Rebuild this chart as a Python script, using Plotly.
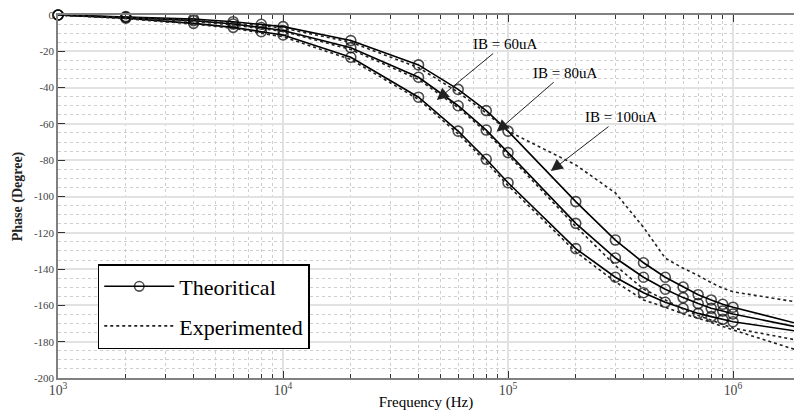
import plotly.graph_objects as go
import numpy as np

# Frequencies (Hz)
freq_theo = [1e3, 2e3, 4e3, 6e3, 8e3, 1e4, 2e4, 4e4, 6e4, 8e4, 1e5,
             2e5, 3e5, 4e5, 5e5, 6e5, 7e5, 8e5, 9e5, 1e6, 2e6]
# Theoretical phase (degree)
theo_60 = [0, -0.9, -2.2, -3.7, -5.1, -6.4, -14.1, -27.5, -41, -52.7, -64,
           -102.8, -124, -136.5, -144.5, -149.9, -154.1, -157, -159.4, -161, -170.5]
theo_80 = [0, -1.3, -3.1, -5, -6.9, -8.5, -18, -34.3, -50, -63.4, -75.8,
           -114.8, -133.9, -144.5, -151.1, -155.7, -159, -161.6, -163.1, -164.7, -172.3]
theo_100 = [0, -1.8, -4.6, -6.8, -9.2, -11, -23.3, -45.3, -64, -79.5, -92.4,
            -128.7, -144.5, -153, -158.3, -161.6, -164.4, -166.2, -167.7, -169, -174.5]
# markers are drawn only up to 1 MHz
marker_on = [True] * 20 + [False]

# Experimented phase (degree)
freq_exp = freq_theo
exp_60 = [0, -1.2, -2.8, -4.3, -6, -7.2, -15, -29, -42.5, -54, -64,
          -82.6, -98, -117, -134, -139.5, -143.5, -147.5, -150.5, -152.5, -158.5]
exp_80 = [0, -1.5, -3.5, -5.5, -7.5, -9, -19, -35.5, -51, -64.5, -77,
          -116.5, -138, -151, -157, -162, -165.5, -168, -170.5, -172.5, -179.5]
exp_100 = [0, -2, -5, -7.3, -10, -12, -24.5, -46.5, -65.5, -81, -94,
           -130.5, -147, -157, -161, -164.7, -167, -169.5, -171.3, -173.5, -185.3]

y_tickvals = [0, -20, -40, -60, -80, -100, -120, -140, -160, -180, -200]
y_ticktext = ["0", "-20", "-40", "-60", "-80", "-100", "-120", "-140", "-160", "-180", "-200"]

labels = ["IB = 60uA", "IB = 80uA", "IB = 100uA"]
label_freq = [4.82e4, 8.9e4, 1.55e5]
label_phase = [-46.8, -64.3, -86]

FONT = "Liberation Serif"

fig = go.Figure()

for i, t in enumerate([theo_60, theo_80, theo_100]):
    fig.add_trace(go.Scatter(
        x=freq_theo, y=t, mode="lines+markers", cliponaxis=False,
        line=dict(color="black", width=1.6),
        marker=dict(symbol="circle-open", size=[10 if m else 0 for m in marker_on],
                    color="black", line=dict(width=1.6)),
        name="Theoritical", legendgroup="theo", showlegend=(i == 0)))

for i, e in enumerate([exp_60, exp_80, exp_100]):
    fig.add_trace(go.Scatter(
        x=freq_exp, y=e, mode="lines",
        line=dict(color="#222222", width=1.6, dash="dot"),
        name="Experimented", legendgroup="exp", showlegend=(i == 0)))

offsets = [(68, -56), (68, -59), (70, -54)]
for lab, f, p, (ax, ay) in zip(labels, label_freq, label_phase, offsets):
    fig.add_annotation(x=np.log10(f), y=p, xref="x", yref="y", text=lab,
                       showarrow=True, arrowhead=2, arrowsize=2.4, arrowwidth=1,
                       arrowcolor="#222222", ax=ax, ay=ay,
                       font=dict(family=FONT, size=15, color="black"))

fig.update_xaxes(
    type="log", range=[2.9995, 3 + 736 / 225], automargin=False,
    dtick=1, exponentformat="power", showexponent="all",
    showgrid=True, gridcolor="#e2e2e2", gridwidth=1.5,
    ticks="inside", ticklen=7, tickcolor="#333333", ticklabelstandoff=-1,
    showline=True, linecolor="#808080", linewidth=1.5, mirror="ticks",
    tickfont=dict(family=FONT, size=11, color="#444444"),
    minor=dict(dtick="D1", showgrid=True, griddash="dot", gridcolor="#cfcfcf",
               gridwidth=1, ticks="inside", ticklen=4, tickcolor="#333333"),
    title=dict(text="Frequency (Hz)", font=dict(family=FONT, size=15, color="black"),
               standoff=0),
    zeroline=False)

fig.update_yaxes(
    range=[-200, 0], tickvals=y_tickvals, ticktext=y_ticktext, automargin=False,
    showgrid=True, gridcolor="#e2e2e2", gridwidth=1.5,
    ticks="inside", ticklen=7, tickcolor="#333333",
    showline=True, linecolor="#808080", linewidth=1.5,
    tickfont=dict(family=FONT, size=11, color="#444444"),
    minor=dict(dtick=5, showgrid=True, griddash="dot", gridcolor="#cfcfcf", gridwidth=1),
    title=dict(text="<b>Phase (Degree)</b>", font=dict(family=FONT, size=14, color="#222222"),
               standoff=8),
    zeroline=False)

fig.update_layout(
    width=794, height=411,
    margin=dict(l=58, r=0, t=15, b=33),
    plot_bgcolor="white", paper_bgcolor="white",
    legend=dict(x=0.054, y=0.314, xanchor="left", yanchor="top",
                bordercolor="black", borderwidth=1.5, bgcolor="white",
                font=dict(family=FONT, size=22, color="black"),
                itemwidth=70, tracegroupgap=8),
    showlegend=True)

fig.write_html("out.html", config={"displayModeBar": False},
               post_script="document.body.style.margin='0px';document.body.style.overflow='hidden';")
